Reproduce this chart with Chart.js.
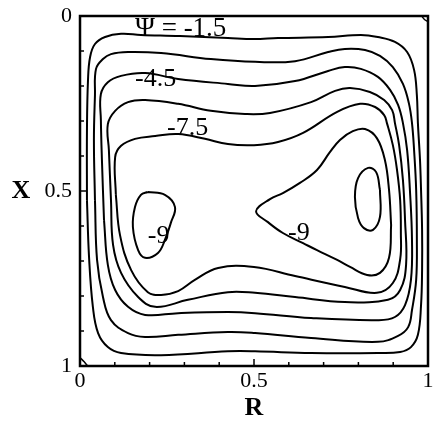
<!DOCTYPE html>
<html>
<head>
<meta charset="utf-8">
<script src="https://cdn.jsdelivr.net/npm/chart.js@4.4.0/dist/chart.umd.min.js"></script>
<style>
  html, body { margin: 0; padding: 0; background: #fff; }
  #wrap { width: 435px; height: 428px; }
</style>
</head>
<body>
<div id="wrap"><canvas id="grafico"></canvas></div>
<script>
// stream function contours, each one a closed line of [R, X] points
const psi1 = [[0.020,0.526],[0.020,0.326],[0.023,0.183],[0.029,0.117],[0.043,0.080],[0.072,0.060],[0.118,0.051],[0.175,0.054],[0.287,0.057],[0.425,0.063],[0.500,0.066],[0.569,0.063],[0.713,0.060],[0.807,0.054],[0.856,0.060],[0.905,0.074],[0.940,0.103],[0.960,0.154],[0.968,0.226],[0.971,0.306],[0.977,0.411],[0.980,0.497],[0.983,0.611],[0.983,0.726],[0.980,0.826],[0.971,0.911],[0.951,0.946],[0.920,0.960],[0.856,0.963],[0.664,0.963],[0.503,0.958],[0.425,0.958],[0.233,0.969],[0.118,0.963],[0.080,0.946],[0.052,0.906],[0.037,0.831],[0.026,0.689]];
const psi2 = [[0.043,0.526],[0.040,0.354],[0.043,0.226],[0.046,0.151],[0.066,0.123],[0.089,0.109],[0.138,0.103],[0.233,0.106],[0.376,0.123],[0.503,0.131],[0.618,0.129],[0.713,0.103],[0.761,0.094],[0.819,0.097],[0.862,0.114],[0.899,0.146],[0.928,0.194],[0.945,0.249],[0.954,0.306],[0.960,0.383],[0.966,0.497],[0.968,0.640],[0.966,0.754],[0.954,0.840],[0.943,0.889],[0.914,0.914],[0.856,0.931],[0.664,0.920],[0.503,0.906],[0.425,0.903],[0.282,0.911],[0.187,0.917],[0.138,0.906],[0.089,0.869],[0.066,0.803],[0.049,0.697]];
const psi3 = [[0.069,0.583],[0.063,0.411],[0.060,0.297],[0.060,0.223],[0.080,0.189],[0.118,0.171],[0.187,0.163],[0.282,0.180],[0.425,0.194],[0.503,0.200],[0.618,0.186],[0.713,0.157],[0.761,0.146],[0.807,0.151],[0.856,0.174],[0.891,0.211],[0.914,0.254],[0.928,0.306],[0.940,0.383],[0.948,0.497],[0.954,0.640],[0.951,0.754],[0.934,0.826],[0.905,0.860],[0.856,0.869],[0.664,0.863],[0.503,0.849],[0.425,0.846],[0.282,0.849],[0.187,0.854],[0.138,0.831],[0.101,0.783],[0.080,0.711]];
const psi4 = [[0.089,0.526],[0.083,0.383],[0.080,0.309],[0.101,0.271],[0.138,0.246],[0.187,0.240],[0.282,0.251],[0.376,0.271],[0.474,0.280],[0.546,0.277],[0.664,0.246],[0.733,0.214],[0.776,0.206],[0.833,0.217],[0.874,0.240],[0.897,0.269],[0.905,0.306],[0.917,0.369],[0.928,0.469],[0.934,0.583],[0.937,0.711],[0.920,0.783],[0.885,0.811],[0.761,0.817],[0.618,0.803],[0.503,0.791],[0.425,0.789],[0.310,0.811],[0.216,0.831],[0.167,0.803],[0.118,0.734],[0.095,0.654]];
const psi5 = [[0.103,0.511],[0.101,0.403],[0.118,0.371],[0.158,0.351],[0.216,0.343],[0.282,0.337],[0.359,0.351],[0.425,0.366],[0.500,0.369],[0.569,0.360],[0.641,0.334],[0.739,0.274],[0.805,0.251],[0.848,0.260],[0.874,0.283],[0.882,0.306],[0.899,0.369],[0.911,0.440],[0.920,0.526],[0.922,0.620],[0.920,0.695],[0.899,0.763],[0.853,0.791],[0.761,0.774],[0.618,0.743],[0.500,0.717],[0.397,0.720],[0.330,0.754],[0.282,0.786],[0.233,0.797],[0.195,0.789],[0.147,0.726],[0.115,0.626]];
const psi6left = [[0.195,0.503],[0.244,0.511],[0.273,0.546],[0.261,0.591],[0.244,0.640],[0.224,0.677],[0.187,0.691],[0.167,0.669],[0.152,0.603],[0.158,0.546],[0.175,0.511]];
const psi6right = [[0.894,0.597],[0.888,0.691],[0.862,0.734],[0.825,0.740],[0.776,0.717],[0.739,0.697],[0.681,0.669],[0.641,0.649],[0.583,0.620],[0.540,0.589],[0.506,0.558],[0.546,0.523],[0.583,0.506],[0.632,0.477],[0.681,0.440],[0.718,0.389],[0.747,0.354],[0.784,0.329],[0.819,0.323],[0.853,0.349],[0.876,0.411],[0.888,0.497]];
const psi7 = [[0.862,0.497],[0.862,0.574],[0.842,0.611],[0.816,0.606],[0.799,0.577],[0.790,0.517],[0.799,0.463],[0.828,0.434],[0.851,0.446]];
// small open pieces in two corners
const cornerTop = [[0.982,0],[0.990,0.010],[1,0.016]];
const cornerBottom = [[0,0.976],[0.012,0.988],[0.022,1]];

const xTicks = [0, 0.5, 1];
const yTicks = [0, 0.5, 1];
const minorTicks = [0.1, 0.2, 0.3, 0.4, 0.5, 0.6, 0.7, 0.8, 0.9];

const labelText = ['Ψ = -1.5', '-4.5', '-7.5', '-9', '-9'];
const labelR = [0.158, 0.158, 0.250, 0.195, 0.598];
const labelX = [0.057, 0.200, 0.340, 0.649, 0.640];

function closed(pts) {
    return pts.concat([pts[0]]).map(p => ({x: p[0], y: p[1]}));
}
function open(pts) {
    return pts.map(p => ({x: p[0], y: p[1]}));
}

let lines = [psi1, psi2, psi3, psi4, psi5, psi6left, psi6right, psi7].map(c => ({
    data: closed(c),
    showLine: true,
    borderColor: '#000',
    borderWidth: 2,
    pointRadius: 0,
    tension: 0.4
}));
[cornerTop, cornerBottom].forEach(c => lines.push({
    data: open(c),
    showLine: true,
    borderColor: '#000',
    borderWidth: 1.5,
    pointRadius: 0,
    tension: 0.4
}));

const extras = {
    id: 'extras',
    afterDatasetsDraw(chart) {
        const {ctx, chartArea: a, scales: {x, y}} = chart;
        ctx.save();
        ctx.strokeStyle = '#000';
        ctx.lineWidth = 2.5;
        ctx.strokeRect(a.left, a.top, a.right - a.left, a.bottom - a.top);
        // ticks pointing inside the frame
        ctx.lineWidth = 1.5;
        minorTicks.forEach(v => {
            let len = v === 0.5 ? 7 : 4;
            let px = x.getPixelForValue(v);
            ctx.beginPath(); ctx.moveTo(px, a.bottom); ctx.lineTo(px, a.bottom - len); ctx.stroke();
            let py = y.getPixelForValue(v);
            ctx.beginPath(); ctx.moveTo(a.left, py); ctx.lineTo(a.left + len, py); ctx.stroke();
        });
        ctx.fillStyle = '#000';
        ctx.textAlign = 'left';
        ctx.textBaseline = 'alphabetic';
        labelText.forEach((t, i) => {
            ctx.font = (i === 0 ? '27px' : '26px') + ' "Liberation Serif"';
            ctx.fillText(t, x.getPixelForValue(labelR[i]), y.getPixelForValue(labelX[i]));
        });
        ctx.font = 'bold 26px "Liberation Serif"';
        ctx.textAlign = 'center';
        ctx.textBaseline = 'middle';
        ctx.fillText('X', 21, y.getPixelForValue(0.5));
        ctx.restore();
    }
};

let ctx = document.getElementById('grafico');
new Chart(ctx, {
    type: 'scatter',
    data: { datasets: lines },
    plugins: [extras],
    options: {
        responsive: true,
        maintainAspectRatio: false,
        animation: false,
        layout: { padding: { top: 16, right: 7, left: 0, bottom: 0 } },
        plugins: { legend: { display: false }, tooltip: { enabled: false } },
        scales: {
            x: {
                type: 'linear',
                min: 0,
                max: 1,
                afterBuildTicks: s => { s.ticks = xTicks.map(v => ({value: v})); },
                afterFit: s => { s.height = 62; s.paddingLeft = 0; s.paddingRight = 0; },
                grid: { display: false, drawTicks: false },
                border: { display: false },
                ticks: { color: '#000', padding: 2, maxRotation: 0, callback: v => String(v), font: { family: 'Liberation Serif', size: 22 } },
                title: { display: true, text: 'R', color: '#000', padding: { top: 0, bottom: 4 }, font: { family: 'Liberation Serif', size: 26, weight: 'bold', lineHeight: 1.2 } }
            },
            y: {
                type: 'linear',
                min: 0,
                max: 1,
                reverse: true,
                afterBuildTicks: s => { s.ticks = yTicks.map(v => ({value: v})); },
                afterFit: s => { s.width = 80; s.paddingTop = 0; s.paddingBottom = 0; },
                grid: { display: false, drawTicks: false },
                border: { display: false },
                ticks: { color: '#000', padding: 8, callback: v => String(v), font: { family: 'Liberation Serif', size: 22 } }
            }
        }
    }
});
</script>
</body>
</html>
